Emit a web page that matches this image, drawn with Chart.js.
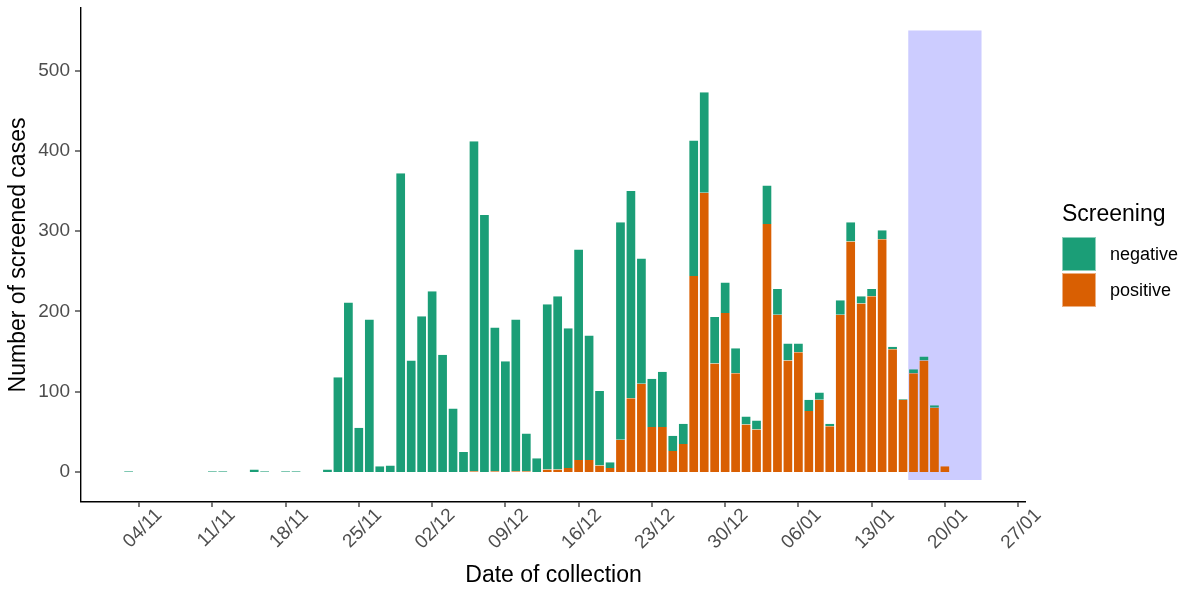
<!DOCTYPE html>
<html>
<head>
<meta charset="utf-8">
<script src="https://cdn.jsdelivr.net/npm/chart.js@4.4.0/dist/chart.umd.min.js"></script>
<style>
  html, body { margin: 0; padding: 0; background: #fff; }
  #wrap { position: relative; width: 1183px; height: 590px; font-family: "Liberation Sans", Arial, sans-serif; }
  .lg { position: absolute; white-space: nowrap; color: #000; }
  .key { position: absolute; box-sizing: border-box; border: 1px solid rgba(255,255,255,0.5); }
</style>
</head>
<body>
<div id="wrap">
  <canvas id="screening"></canvas>
  <div class="lg" style="left:1062px; top:202px; font-size:23px; line-height:23px;">Screening</div>
  <div class="key" id="keyNeg" style="left:1062px; top:237px; width:34px; height:34px;"></div>
  <div class="lg" style="left:1110px; top:237px; font-size:18px; line-height:34px;">negative</div>
  <div class="key" id="keyPos" style="left:1062px; top:273px; width:34px; height:34px;"></div>
  <div class="lg" style="left:1110px; top:273px; font-size:18px; line-height:34px;">positive</div>
</div>
<script>
// day offsets counted from 04/11
var days = [-1, 0, 1, 2, 3, 4, 5, 6, 7, 8, 9, 10, 11, 12, 13, 14, 15, 16, 17, 18,
            19, 20, 21, 22, 23, 24, 25, 26, 27, 28, 29, 30, 31, 32, 33, 34, 35, 36, 37, 38,
            39, 40, 41, 42, 43, 44, 45, 46, 47, 48, 49, 50, 51, 52, 53, 54, 55, 56, 57, 58,
            59, 60, 61, 62, 63, 64, 65, 66, 67, 68, 69, 70, 71, 72, 73, 74, 75, 76, 77];

var negative = [1, 0, 0, 0, 0, 0, 0, 0, 1, 1, 0, 0, 3, 1, 0, 1, 1, 0, 0, 3,
                118, 211, 55, 190, 7, 8, 372, 139, 194, 225, 146, 79, 25, 411, 320, 179, 138, 189, 47, 17,
                206, 216, 174, 262, 155, 93, 7, 271, 258, 156, 60, 69, 19, 25, 169, 125, 58, 38, 31, 10,
                11, 48, 32, 21, 11, 14, 9, 3, 18, 24, 9, 9, 11, 3, 1, 5, 5, 3, 0];

var positive = [0, 0, 0, 0, 0, 0, 0, 0, 0, 0, 0, 0, 0, 0, 0, 0, 0, 0, 0, 0,
                0, 0, 0, 0, 0, 0, 0, 0, 0, 0, 0, 0, 0, 1, 0, 1, 0, 1, 1, 0,
                3, 3, 5, 15, 15, 8, 5, 40, 92, 110, 56, 56, 26, 35, 244, 348, 135, 198, 123, 59,
                53, 309, 196, 139, 149, 76, 90, 57, 196, 287, 210, 219, 290, 153, 90, 123, 139, 80, 7];

var tickDays = [0, 7, 14, 21, 28, 35, 42, 49, 56, 63, 70, 77, 84];
var tickLabels = ['04/11', '11/11', '18/11', '25/11', '02/12', '09/12', '16/12',
                  '23/12', '30/12', '06/01', '13/01', '20/01', '27/01'];
var yTicks = [0, 100, 200, 300, 400, 500];

// shaded period (days from 04/11, counts)
var shadeFrom = 73.5, shadeTo = 80.5, shadeLow = -10, shadeHigh = 550;

var green = '#1B9E77';
var orange = '#D95F02';
var font = '"Liberation Sans", Arial, sans-serif';

function points(values) {
    return days.map(function (d, i) { return { x: d, y: values[i] }; });
}

// scales keep no extra padding so the plot box matches the reference
function fixPadding(s) {
    s.paddingTop = 0; s.paddingBottom = 0; s.paddingLeft = 0; s.paddingRight = 0;
}

var shadePlugin = {
    id: 'shade',
    beforeDatasetsDraw: function (chart) {
        var ctx = chart.ctx, x = chart.scales.x, y = chart.scales.y;
        var x0 = x.getPixelForValue(shadeFrom), x1 = x.getPixelForValue(shadeTo);
        var y0 = y.getPixelForValue(shadeHigh), y1 = y.getPixelForValue(shadeLow);
        ctx.save();
        ctx.fillStyle = '#CCCCFF';
        ctx.fillRect(x0, y0, x1 - x0, y1 - y0);
        ctx.restore();
    }
};

var barBorder = { left: 0.5, right: 0.5, top: 0, bottom: 0 };

var config = {
    type: 'bar',
    data: {
        datasets: [{
            label: 'positive',
            data: points(positive),
            backgroundColor: orange,
            borderColor: 'rgba(255,255,255,0.5)',
            borderWidth: barBorder,
            barPercentage: 0.93,
            categoryPercentage: 1
        }, {
            label: 'negative',
            data: points(negative),
            backgroundColor: green,
            borderColor: 'rgba(255,255,255,0.5)',
            borderWidth: barBorder,
            barPercentage: 0.93,
            categoryPercentage: 1
        }]
    },
    options: {
        responsive: true,
        maintainAspectRatio: false,
        animation: false,
        layout: { padding: { left: 0, top: 8, right: 157, bottom: 0 } },
        plugins: {
            legend: { display: false },
            tooltip: { enabled: false }
        },
        scales: {
            x: {
                type: 'linear',
                stacked: true,
                offset: false,
                min: -5.55,
                max: 84.75,
                afterBuildTicks: function (s) { s.ticks = tickDays.map(function (v) { return { value: v }; }); },
                afterFit: function (s) { s.height = 88; fixPadding(s); },
                ticks: {
                    autoSkip: false,
                    minRotation: 45,
                    maxRotation: 45,
                    padding: -3,
                    labelOffset: 20,
                    color: '#4D4D4D',
                    font: { family: font, size: 19 },
                    callback: function (v) { var i = tickDays.indexOf(v); return i < 0 ? '' : tickLabels[i]; }
                },
                grid: { offset: false, drawOnChartArea: false, drawTicks: true, tickLength: 5, color: '#333333', lineWidth: 0, tickColor: '#333333', tickWidth: 1.3 },
                border: { display: true, color: '#000000', width: 1.4 },
                title: { display: true, text: 'Date of collection', color: '#000000', font: { family: font, size: 23 }, padding: { top: 0, bottom: 1 } }
            },
            y: {
                stacked: true,
                min: -37.4,
                max: 578,
                afterBuildTicks: function (s) { s.ticks = yTicks.map(function (v) { return { value: v }; }); },
                afterFit: function (s) { s.width = 81; fixPadding(s); },
                ticks: {
                    padding: 5,
                    color: '#4D4D4D',
                    font: { family: font, size: 19 }
                },
                grid: { drawOnChartArea: false, drawTicks: true, tickLength: 6, color: '#333333', lineWidth: 0, tickColor: '#333333', tickWidth: 1.3 },
                border: { display: true, color: '#000000', width: 1.4 },
                title: { display: true, text: 'Number of screened cases', color: '#000000', font: { family: font, size: 23 }, padding: { top: 5, bottom: 0 } }
            }
        }
    },
    plugins: [shadePlugin]
};

var ctx = document.getElementById('screening').getContext('2d');
window.screeningChart = new Chart(ctx, config);

document.getElementById('keyNeg').style.background = green;
document.getElementById('keyPos').style.background = orange;
</script>
</body>
</html>
